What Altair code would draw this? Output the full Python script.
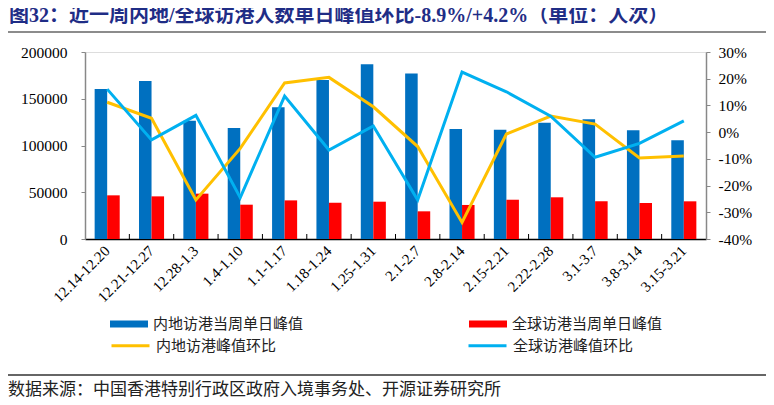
import altair as alt
import pandas as pd

cats = ["12.14-12.20", "12.21-12.27", "12.28-1.3", "1.4-1.10", "1.1-1.17", "1.18-1.24",
        "1.25-1.31", "2.1-2.7", "2.8-2.14", "2.15-2.21", "2.22-2.28", "3.1-3.7",
        "3.8-3.14", "3.15-3.21"]
mainland_peak = [160500, 169000, 126500, 118700, 141000, 170000, 186800,
                 177000, 117600, 116900, 124400, 128000, 116200, 105500]
global_peak = [46700, 45600, 48500, 36700, 41300, 38900, 39900,
               29600, 36400, 42000, 44600, 40300, 38500, 40300]
mainland_wow = [11.2, 5.2, -25.4, -6.1, 18.4, 20.5, 9.5,
                -5.4, -33.8, -0.7, 6.0, 3.0, -9.7, -8.9]
global_wow = [16.1, -2.9, 6.3, -24.5, 13.5, -6.7, 2.3,
              -25.4, 22.5, 15.1, 6.0, -9.4, -4.2, 4.2]

bar_series = ["内地访港当周单日峰值", "全球访港当周单日峰值"]
line_series = ["内地访港峰值环比", "全球访港峰值环比"]
bar_colors = ["#0070C0", "#FF0000"]
line_colors = ["#FFC000", "#00B0F0"]
left_ticks = [0, 50000, 100000, 150000, 200000]
right_ticks = [-40, -30, -20, -10, 0, 10, 20, 30]
title_text = "图32：近一周内地/全球访港人数单日峰值环比-8.9%/+4.2%（单位：人次）"
source_text = "数据来源：中国香港特别行政区政府入境事务处、开源证券研究所"

n = len(cats)
bars_df = pd.DataFrame({
    "cat": cats * 2,
    "series": [bar_series[0]] * n + [bar_series[1]] * n,
    "value": mainland_peak + global_peak,
})
lines_df = pd.DataFrame({
    "cat": cats * 2,
    "idx": list(range(n)) * 2,
    "series": [line_series[0]] * n + [line_series[1]] * n,
    "pct": mainland_wow + global_wow,
})
ticks_df = pd.DataFrame({"cat": cats[1:]})
one_df = pd.DataFrame({"t": [source_text], "h": [title_text]})

W, H = 621, 187
PL, PT = 77, 44
SERIF = "Liberation Serif"
CJK = "'Noto Sans CJK SC'"
MIX = "Liberation Serif, 'Noto Sans CJK SC'"
RECT = "M-1,-0.18H1V0.18H-1Z"

x_axis = alt.Axis(title=None, labelAngle=-45, labelAlign="right", labelBaseline="middle",
                  labelFont=SERIF, labelFontSize=15, labelColor="#000", ticks=False,
                  domainColor="#000", domainWidth=1.5, labelPadding=9)
xenc = alt.X("cat:N", sort=cats, scale=alt.Scale(paddingInner=0, paddingOuter=0), axis=x_axis)

bars = alt.Chart(bars_df).mark_bar().encode(
    x=xenc,
    xOffset=alt.XOffset("series:N", sort=bar_series,
                        scale=alt.Scale(domain=bar_series, paddingInner=0, paddingOuter=0.77)),
    y=alt.Y("value:Q", scale=alt.Scale(domain=[0, 200000], nice=False),
            axis=alt.Axis(title=None, values=left_ticks, format="d", orient="left", grid=False,
                          domainColor="#888", domainWidth=1.5, tickColor="#888", tickSize=4,
                          labelPadding=14, labelFont=SERIF, labelFontSize=15.5, labelColor="#000")),
    fill=alt.Fill("series:N", sort=bar_series,
                  scale=alt.Scale(domain=bar_series, range=bar_colors),
                  legend=alt.Legend(title=None, orient="none", legendX=25, legendY=253,
                                    direction="horizontal", symbolType=RECT, symbolSize=1444,
                                    symbolStrokeWidth=0, symbolOpacity=1, labelFont=CJK,
                                    labelFontSize=15, labelColor="#222", labelOffset=5,
                                    columnPadding=165, labelLimit=300)),
)

lines = alt.Chart(lines_df).mark_line(strokeWidth=3).encode(
    x=xenc,
    y=alt.Y("pct:Q", scale=alt.Scale(domain=[-40, 30], nice=False),
            axis=alt.Axis(title=None, values=right_ticks, orient="right", grid=False,
                          labelExpr="datum.value + '%'",
                          domainColor="#888", domainWidth=1.5, tickColor="#888", tickSize=4,
                          labelPadding=8, labelFont=SERIF, labelFontSize=15.5, labelColor="#000")),
    stroke=alt.Stroke("series:N", sort=line_series,
                      scale=alt.Scale(domain=line_series, range=line_colors),
                      legend=alt.Legend(title=None, orient="none", legendX=25, legendY=273,
                                        direction="horizontal", symbolType="stroke", symbolSize=1444,
                                        symbolStrokeWidth=3, labelFont=CJK,
                                        labelFontSize=15, labelColor="#222", labelOffset=5,
                                        columnPadding=185, labelLimit=300)),
    order=alt.Order("idx:Q"),
)

ticks = alt.Chart(ticks_df).mark_rule(color="#000", strokeWidth=1).encode(
    x=alt.X("cat:N", sort=cats, bandPosition=0, scale=alt.Scale(paddingInner=0, paddingOuter=0), axis=x_axis),
    y=alt.value(H - 5), y2=alt.value(H),
)

top_line = alt.Chart(one_df).mark_rule(color="#8c8c8c", strokeWidth=2).encode(
    x=alt.value(-PL), x2=alt.value(681), y=alt.value(32 - 52)
)
bottom_line = alt.Chart(one_df).mark_rule(color="#333", strokeWidth=1.5).encode(
    x=alt.value(-PL), x2=alt.value(681), y=alt.value(375 - 52)
)
title = alt.Chart(one_df).mark_text(align="left", baseline="middle", font=MIX, fontSize=20,
                                    fontWeight="bold", color="#1F2D86").encode(
    x=alt.value(-PL + 1), y=alt.value(16 - 52), text="h:N"
)
source = alt.Chart(one_df).mark_text(align="left", baseline="middle", font=CJK, fontSize=17,
                                     color="#222").encode(
    x=alt.value(-PL), y=alt.value(390 - 52), text="t:N"
)

chart = alt.layer(bars, lines, ticks, top_line, bottom_line, title, source).resolve_scale(
    y="independent"
).properties(
    width=W, height=H,
    autosize=alt.AutoSizeParams(type="none"),
    padding={"left": PL, "top": PT, "right": 60, "bottom": 158},
).configure_view(stroke=None).configure(background="white")

chart.save("out.html", embed_options={"renderer": "svg", "actions": False})
